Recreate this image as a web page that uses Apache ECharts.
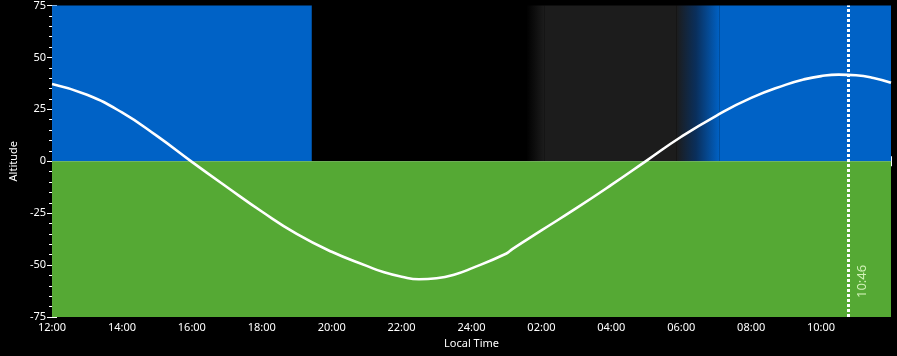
<!DOCTYPE html>
<html><head><meta charset="utf-8">
<script src="https://cdn.jsdelivr.net/npm/echarts@6/dist/echarts.min.js"></script>
<style>html,body{margin:0;padding:0;background:#000;}#c{width:897px;height:356px;}</style>
</head><body><div id="c"></div>
<script>
// ---- data ----
const times = ['12:00','13:00','14:00','15:00','16:00','17:00','18:00','19:00','20:00','21:00','21:30','22:00','22:30','23:00','23:30','24:00','01:00','01:10','02:00','03:00','04:00','05:00','06:00','07:00','08:00','09:00','09:30','10:00','10:30','11:00','11:30','12:00'];
const altitudes = [37.2,32.0,23.5,12.2,-0.3,-12.4,-24.2,-35.0,-43.6,-50.4,-53.5,-55.6,-56.8,-56.3,-54.6,-51.6,-44.4,-42.3,-33.3,-22.6,-11.4,0.2,11.8,21.9,30.5,36.9,39.4,41.0,41.7,41.4,40.1,37.8];
const bandStarts = ['12:00','19:26','01:34','02:05','05:52','07:06'];
const bandEnds   = ['19:26','01:34','02:05','05:52','07:06','12:00'];
const bandKinds  = ['day','night','night-astro','astro','astro-day','day'];
const nowTime = '10:46';
const yTicks = [-75,-50,-25,0,25,50,75];

// ---- helpers ----
function rawMin(s){const [h,m]=s.split(':').map(Number);let v=h*60+m-720;if(v<0)v+=1440;return v;}
function seqMins(arr){let prev=-1;return arr.map(s=>{let v=rawMin(s);while(v<prev)v+=1440;prev=v;return v;});}
const xMins = seqMins(times);
const points = xMins.map((x,i)=>[x,altitudes[i]]);
const bs = seqMins(bandStarts);
const be = bandEnds.map((s,i)=>{let v=rawMin(s);while(v<=bs[i])v+=1440;return v;});
const nowMin = rawMin(nowTime);

const BLUE='#0062c6', GREEN='#55a934', GRAY='#1c1c1c', BLACK='#000000';
function bandColor(k){
  if(k==='day')return BLUE;
  if(k==='night')return BLACK;
  if(k==='astro')return GRAY;
  if(k==='night-astro')return new echarts.graphic.LinearGradient(0,0,1,0,[{offset:0,color:BLACK},{offset:1,color:GRAY}]);
  if(k==='astro-day')return new echarts.graphic.LinearGradient(0,0,1,0,[{offset:0,color:GRAY},{offset:0.45,color:'#0a2f5c'},{offset:1,color:BLUE}]);
}
const areas = bandKinds.map((k,i)=>[{xAxis:bs[i],yAxis:0,itemStyle:{color:bandColor(k),opacity:1,borderWidth:0}},{xAxis:be[i],yAxis:yTicks[yTicks.length-1]}]);
areas.push([{xAxis:0,yAxis:yTicks[0],itemStyle:{color:GREEN,opacity:1,borderWidth:0}},{xAxis:1440,yAxis:0}]);

function fmt(v){let h=12+Math.round(v/60);if(h>24)h-=24;return String(h).padStart(2,'0')+':00';}

const FONT='Noto Sans';
const tickStyle={color:'#fff',width:1};
const chart = echarts.init(document.getElementById('c'),null,{renderer:'canvas'});
chart.setOption({
  backgroundColor:'#000',
  animation:false,
  grid:{left:50,right:6,top:5,bottom:39},
  xAxis:[{
    type:'value',min:0,max:1440,interval:120,
    name:'Local Time',nameLocation:'middle',nameGap:20,
    nameTextStyle:{color:'#fff',fontSize:11,fontFamily:FONT},
    axisLine:{lineStyle:{color:'#fff',width:1}},
    axisTick:{show:true,inside:true,length:5,lineStyle:tickStyle},
    minorTick:{show:true,splitNumber:4,length:3,lineStyle:tickStyle},
    axisLabel:{color:'#fff',fontSize:11,fontFamily:FONT,margin:5,formatter:fmt,showMaxLabel:false},
    splitLine:{show:false}
  },{
    type:'value',position:'top',min:0,max:1440,interval:120,
    axisLine:{show:true,lineStyle:{color:'#fff',width:1}},
    axisTick:{show:true,inside:true,length:5,lineStyle:tickStyle},
    minorTick:{show:true,splitNumber:4,length:3,lineStyle:tickStyle},
    axisLabel:{show:false},splitLine:{show:false}
  }],
  yAxis:[{
    type:'value',min:yTicks[0],max:yTicks[yTicks.length-1],interval:25,
    name:'Altitude',nameLocation:'middle',nameGap:33,
    nameTextStyle:{color:'#fff',fontSize:11,fontFamily:FONT},
    axisLine:{show:true,lineStyle:{color:'#fff',width:1}},
    axisTick:{show:true,inside:true,length:5,lineStyle:tickStyle},
    minorTick:{show:true,splitNumber:5,length:3,lineStyle:tickStyle},
    axisLabel:{color:'#fff',fontSize:11,fontFamily:FONT,margin:6},
    splitLine:{show:false}
  },{
    type:'value',position:'right',min:yTicks[0],max:yTicks[yTicks.length-1],interval:25,
    axisLine:{show:false},
    axisTick:{show:true,inside:true,length:5,lineStyle:tickStyle},
    minorTick:{show:true,splitNumber:5,length:3,lineStyle:tickStyle},
    axisLabel:{show:false},splitLine:{show:false}
  }],
  series:[{
    type:'line',data:[],z:1,silent:true,
    markArea:{silent:true,data:areas}
  },{
    type:'line',data:points,z:5,smooth:0.5,symbol:'none',silent:true,
    lineStyle:{color:'#fff',width:2.6},
    markLine:{
      silent:true,symbol:['none','none'],
      lineStyle:{color:'#fff',type:[3,2],width:3},
      label:{show:true,formatter:nowTime,position:'insideStartBottom',color:'#d2f3b8',fontSize:13,fontFamily:FONT,distance:[19,8]},
      data:[{xAxis:nowMin}]
    }
  }]
});
</script></body></html>
